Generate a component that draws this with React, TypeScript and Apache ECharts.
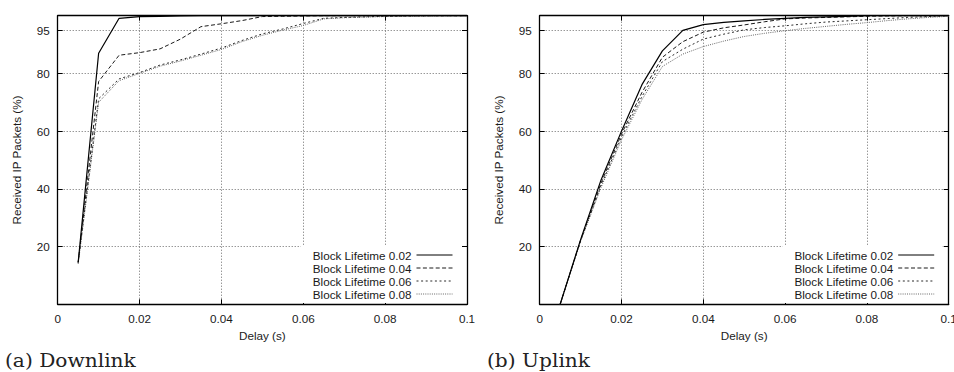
import React, { useEffect, useRef } from "react";
import * as echarts from "echarts";

// ---- data ----
const delays = [0.005, 0.01, 0.015, 0.02, 0.025, 0.03, 0.035, 0.04, 0.045, 0.05, 0.055, 0.06, 0.065, 0.07, 0.075, 0.08, 0.085, 0.09, 0.095, 0.1];

const seriesNames = ["Block Lifetime 0.02", "Block Lifetime 0.04", "Block Lifetime 0.06", "Block Lifetime 0.08"];

const downlink002 = [14.5, 87.0, 99.1, 99.7, 99.8, 99.9, 100, 100, 100, 100, 100, 100, 100, 100, 100, 100, 100, 100, 100, 100];
const downlink004 = [14.5, 77.2, 86.3, 87.2, 88.5, 91.9, 96.2, 97.2, 98.3, 99.7, 99.8, 99.9, 100, 100, 100, 100, 100, 100, 100, 100];
const downlink006 = [14.5, 71.2, 78.1, 80.3, 82.9, 84.7, 86.7, 88.8, 91.4, 93.7, 95.4, 97.3, 99.1, 99.4, 99.6, 99.8, 99.9, 100, 100, 100];
const downlink008 = [14.0, 70.0, 77.5, 80.0, 82.5, 84.3, 86.3, 88.3, 91.0, 93.2, 95.0, 96.6, 98.9, 99.3, 99.5, 99.7, 99.8, 99.9, 100, 100];

const uplink002 = [0, 22.4, 43.1, 60.0, 76.1, 87.8, 94.9, 96.9, 97.7, 98.2, 98.7, 99.1, 99.4, 99.6, 99.8, 100, 100, 100, 100, 100];
const uplink004 = [0, 22.2, 42.0, 59.0, 73.4, 85.6, 91.0, 94.3, 95.8, 96.8, 97.9, 98.9, 99.2, 99.4, 99.6, 99.8, 99.9, 100, 100, 100];
const uplink006 = [0, 22.0, 41.2, 58.0, 72.0, 84.1, 88.4, 91.9, 93.6, 95.1, 95.9, 96.5, 97.2, 97.8, 98.2, 98.6, 99.0, 99.4, 99.7, 100];
const uplink008 = [0, 21.8, 40.5, 57.0, 70.9, 82.4, 86.7, 89.3, 91.2, 92.8, 93.9, 94.8, 95.6, 96.3, 97.0, 97.6, 98.3, 98.9, 99.4, 99.8];

const yTickValues = [20, 40, 60, 80, 95];
const xTickInterval = 0.02;
const captions = ["(a) Downlink", "(b) Uplink"];
const xAxisTitle = "Delay (s)";
const yAxisTitle = "Received IP Packets (%)";

// ---- styling ----
const FONT = "'Liberation Sans', Arial, Helvetica, sans-serif";
const FS = 11.7;
const TXT = "#1a1a1a";

const lineStyles: any[] = [
  { type: "solid", color: "#000", width: 1.2 },
  { type: [4, 2.4], color: "#1a1a1a", width: 1 },
  { type: [2, 2.6], color: "#2a2a2a", width: 1 },
  { type: [1, 1.2], color: "#666", width: 1 },
];

const grids = [
  { left: 57.7, top: 15.7, width: 409.3, height: 288.6, outerBoundsMode: "none", containLabel: false },
  { left: 539.7, top: 15.7, width: 409.0, height: 288.6, outerBoundsMode: "none", containLabel: false },
];

export default function App() {
  const ref = useRef<HTMLDivElement>(null);
  useEffect(() => {
    if (!ref.current) return;
    const chart = echarts.init(ref.current, undefined, { renderer: "svg" });

    const xAxes: any[] = [];
    const yAxes: any[] = [];
    const series: any[] = [];
    const legends: any[] = [];
    const datasets = [
      [downlink002, downlink004, downlink006, downlink008],
      [uplink002, uplink004, uplink006, uplink008],
    ];
    const axisLine = { show: true, onZero: false, lineStyle: { color: "#000", width: 1.3 } };
    const tick = { show: true, inside: true, length: 5, lineStyle: { color: "#000", width: 1 } };
    const split = { show: true, lineStyle: { color: "#6a6a6a", width: 1, type: [1, 2] } };

    grids.forEach((g, gi) => {
      xAxes.push({
        gridIndex: gi, type: "value", position: "bottom", min: 0, max: 0.1, interval: xTickInterval,
        axisLine, axisTick: tick, splitLine: split,
        axisLabel: { fontFamily: FONT, fontSize: FS, color: TXT, margin: 8, formatter: (v: number) => String(+v.toFixed(2)) },
        name: xAxisTitle, nameLocation: "middle", nameGap: 23,
        nameTextStyle: { fontFamily: FONT, fontSize: FS, color: TXT },
      });
      xAxes.push({
        gridIndex: gi, type: "value", position: "top", min: 0, max: 0.1, interval: xTickInterval,
        axisLine, axisTick: tick, splitLine: { show: false }, axisLabel: { show: false },
      });
      yAxes.push({
        gridIndex: gi, type: "value", position: "left", min: 0, max: 100,
        axisLine, axisTick: { ...tick, customValues: yTickValues }, splitLine: split,
        axisLabel: { fontFamily: FONT, fontSize: FS, color: TXT, margin: 8, customValues: yTickValues },
        name: yAxisTitle, nameLocation: "middle", nameGap: 35, nameRotate: 90,
        nameTextStyle: { fontFamily: FONT, fontSize: FS, color: TXT },
      });
      yAxes.push({
        gridIndex: gi, type: "value", position: "right", min: 0, max: 100,
        axisLine, axisTick: { ...tick, customValues: yTickValues }, splitLine: { show: false },
        axisLabel: { show: false, customValues: yTickValues },
      });
      datasets[gi].forEach((vals, si) => {
        series.push({
          type: "line", name: seriesNames[si], xAxisIndex: gi * 2, yAxisIndex: gi * 2,
          data: delays.map((d, k) => [d, vals[k]]),
          symbol: "none", lineStyle: lineStyles[si], itemStyle: { color: lineStyles[si].color },
          z: 5 - si,
        });
      });
      legends.push({
        data: seriesNames, orient: "vertical", align: "right",
        right: 954 - (g.left + g.width) + 14 - 8, bottom: 69,
        itemWidth: 36, itemHeight: 10, itemGap: 1,
        padding: [3, 8, 3, 12], backgroundColor: "#fff", selectedMode: false,
        itemStyle: { opacity: 0 },
        lineStyle: { width: 1 },
        textStyle: { fontFamily: FONT, fontSize: FS, color: TXT, lineHeight: 12 },
      });
    });

    chart.setOption({
      animation: false,
      backgroundColor: "#fff",
      grid: grids,
      xAxis: xAxes,
      yAxis: yAxes,
      series,
      legend: legends,
      graphic: captions.map((c, i) => ({
        type: "text", x: i === 0 ? 5 : 487, y: 352, scaleX: 1.12, scaleY: 1,
        style: { text: c, font: "18px 'DejaVu Serif', serif", fill: "#222", verticalAlign: "top" },
      })),
    });
    return () => chart.dispose();
  }, []);
  return <div ref={ref} style={{ position: "absolute", left: 0, top: 0, width: 954, height: 372 }} />;
}
